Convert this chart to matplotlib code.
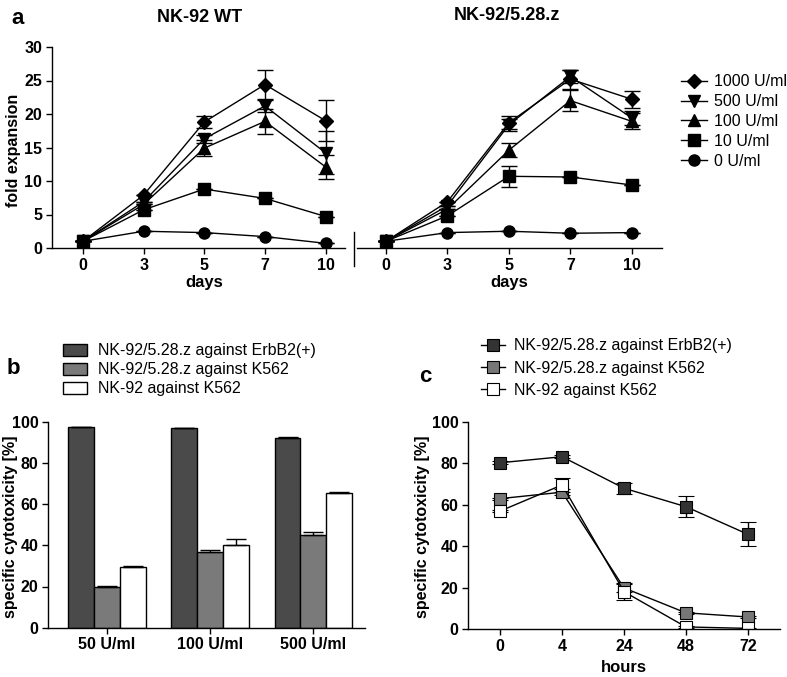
import matplotlib
matplotlib.use('Agg')
import matplotlib.pyplot as plt
from matplotlib.lines import Line2D
import numpy as np

plt.rcParams['font.family'] = ['Liberation Sans', 'DejaVu Sans']

# panel a: fold expansion over days
days = ['0', '3', '5', '7', '10']
doses = ['1000 U/ml', '500 U/ml', '100 U/ml', '10 U/ml', '0 U/ml']
dose_markers = ['D', 'v', '^', 's', 'o']

wt_mean = [
    [1.0, 7.9, 18.8, 24.4, 19.0],
    [1.0, 6.9, 16.3, 21.2, 14.2],
    [1.0, 6.5, 14.9, 18.9, 12.1],
    [1.0, 5.7, 8.8, 7.4, 4.7],
    [1.0, 2.5, 2.3, 1.7, 0.7],
]
wt_err = [
    [0, 0, 0.9, 2.2, 3.1],
    [0, 0, 0.6, 0.9, 3.2],
    [0, 0, 1.2, 1.9, 1.8],
    [0, 0, 0, 0, 0],
    [0, 0, 0, 0, 0],
]
car_mean = [
    [1.0, 6.9, 18.7, 25.2, 22.2],
    [1.0, 6.3, 18.4, 25.6, 19.4],
    [1.0, 5.8, 14.6, 22.0, 18.9],
    [1.0, 4.8, 10.7, 10.6, 9.4],
    [1.0, 2.3, 2.5, 2.2, 2.3],
]
car_err = [
    [0, 0, 1.0, 1.4, 1.3],
    [0, 0, 0.9, 1.0, 1.1],
    [0, 0, 1.0, 1.6, 1.2],
    [0, 0, 1.6, 0, 0],
    [0, 0, 0, 0, 0],
]

# panel b: cytotoxicity per IL-2 concentration
conc = ['50 U/ml', '100 U/ml', '500 U/ml']
groups = ['NK-92/5.28.z against ErbB2(+)', 'NK-92/5.28.z against K562', 'NK-92 against K562']
b_erbb2 = [97.4, 96.8, 92.1]
b_erbb2_err = [0.2, 0.2, 0.7]
b_car_k562 = [19.9, 36.6, 45.0]
b_car_k562_err = [0.4, 1.3, 1.6]
b_wt_k562 = [29.6, 40.1, 65.6]
b_wt_k562_err = [0.5, 3.0, 0.3]

# panel c: cytotoxicity over time
hours = ['0', '4', '24', '48', '72']
c_erbb2 = [80.2, 83.1, 67.9, 59.0, 45.7]
c_erbb2_err = [0.8, 0.8, 2.6, 5.2, 5.8]
c_car_k562 = [62.9, 66.0, 19.8, 7.8, 5.8]
c_car_k562_err = [0.5, 1.5, 2.0, 0.5, 0.5]
c_wt_k562 = [56.9, 69.5, 18.0, 1.0, 0.3]
c_wt_k562_err = [0.5, 3.5, 4.0, 0.3, 0.3]

W, H = 787, 677
fig = plt.figure(figsize=(W / 100, H / 100), dpi=100)


def px_axes(l, t, r, b):
    return fig.add_axes([l / W, 1 - b / H, (r - l) / W, (b - t) / H])


def style(ax):
    for s in ['top', 'right']:
        ax.spines[s].set_visible(False)
    for s in ['left', 'bottom']:
        ax.spines[s].set_linewidth(1.0)
    ax.tick_params(length=4, width=1, labelsize=11.5, pad=3)
    for lab in ax.get_xticklabels() + ax.get_yticklabels():
        lab.set_fontweight('bold')


def ftext(x, y, s, **kw):
    fig.text(x / W, 1 - y / H, s, ha='center', va='center', **kw)


# ---- panel a ----
axL = px_axes(52, 47, 345, 248)
axR = px_axes(357, 47, 662, 248)
xpos = np.arange(len(days))
for ax, means, errs in [(axL, wt_mean, wt_err), (axR, car_mean, car_err)]:
    for i in range(len(doses) - 1, -1, -1):
        ms = 7 if dose_markers[i] == 'D' else 8
        ax.errorbar(xpos, means[i], yerr=errs[i], color='black', marker=dose_markers[i],
                    ms=ms, lw=1, elinewidth=1, capsize=6, capthick=1)
    ax.set_ylim(0, 30)
    ax.set_xticks(xpos)
    ax.set_xticklabels(days)
    ax.set_yticks(range(0, 31, 5))
axL.set_xlim(-0.51, 4.32)
axR.set_xlim(-0.47, 4.49)
style(axL)
style(axR)
axR.spines['left'].set_visible(False)
axR.tick_params(axis='y', left=False, labelleft=False)
fig.add_artist(Line2D([354 / W, 354 / W], [1 - 232 / H, 1 - 266 / H], color='black', lw=1))

a_handles = [Line2D([], [], color='black', lw=1, marker=m, ms=(7 if m == 'D' else 8))
             for m in dose_markers]
axR.legend(a_handles, doses, loc='upper left', bbox_to_anchor=(675 / W, 1 - 68 / H),
           bbox_transform=fig.transFigure, frameon=False, fontsize=11.5,
           handlelength=1.6, handletextpad=0.45, labelspacing=0.3, borderaxespad=0)

ftext(200, 18, 'NK-92 WT', fontsize=13, fontweight='bold')
ftext(507, 15, 'NK-92/5.28.z', fontsize=13, fontweight='bold')
ftext(18, 18, 'a', fontsize=16, fontweight='bold')
ftext(14, 150, 'fold expansion', fontsize=11.5, fontweight='bold', rotation=90)
ftext(204, 283, 'days', fontsize=12, fontweight='bold')
ftext(509, 283, 'days', fontsize=12, fontweight='bold')

# ---- panel b ----
axb = px_axes(48, 421.7, 365, 627.7)
xb = np.arange(len(conc))
bw = 0.25
bar_colors = ['#4a4a4a', '#7a7a7a', 'white']
b_vals = [b_erbb2, b_car_k562, b_wt_k562]
b_errs = [b_erbb2_err, b_car_k562_err, b_wt_k562_err]
for k in range(3):
    errs = np.array(b_errs[k])
    axb.bar(xb + (k - 1) * bw, b_vals[k], width=bw, color=bar_colors[k], edgecolor='black',
            linewidth=1, label=groups[k],
            yerr=[np.zeros_like(errs), errs],
            error_kw=dict(ecolor='black', elinewidth=1, capsize=7, capthick=1))
axb.set_xlim(-0.57, 2.5)
axb.set_ylim(0, 100)
axb.set_yticks(range(0, 101, 20))
axb.set_xticks(xb)
axb.set_xticklabels(conc)
style(axb)
axb.legend(loc='upper left', bbox_to_anchor=(57 / W, 1 - 337 / H),
           bbox_transform=fig.transFigure, frameon=False, fontsize=11.5,
           handlelength=1.45, handleheight=0.75, handletextpad=0.7, labelspacing=0.25,
           borderaxespad=0)
ftext(13, 368, 'b', fontsize=16, fontweight='bold')
ftext(11, 527, 'specific cytotoxicity [%]', fontsize=11.5, fontweight='bold', rotation=90)

# ---- panel c ----
axc = px_axes(468, 421.7, 780, 629)
xc = np.arange(len(hours))
c_vals = [c_erbb2, c_car_k562, c_wt_k562]
c_errs = [c_erbb2_err, c_car_k562_err, c_wt_k562_err]
c_colors = ['#333333', '#777777', 'white']
for k in range(3):
    axc.errorbar(xc, c_vals[k], yerr=c_errs[k], color='black', marker='s', ms=8,
                 mfc=c_colors[k], mec='black', mew=0.8, lw=1, elinewidth=1,
                 capsize=6, capthick=1)
axc.set_xlim(-0.52, 4.52)
axc.set_ylim(0, 100)
axc.set_yticks(range(0, 101, 20))
axc.set_xticks(xc)
axc.set_xticklabels(hours)
style(axc)
c_handles = [Line2D([], [], color='black', lw=1, marker='s', ms=8, mfc=c, mec='black', mew=0.8)
             for c in c_colors]
axc.legend(c_handles, groups, loc='upper left', bbox_to_anchor=(475 / W, 1 - 332 / H),
           bbox_transform=fig.transFigure, frameon=False, fontsize=11.5,
           handlelength=1.5, handletextpad=0.55, labelspacing=0.45, borderaxespad=0)
ftext(425, 377, 'c', fontsize=16, fontweight='bold')
ftext(423, 527, 'specific cytotoxicity [%]', fontsize=11.5, fontweight='bold', rotation=90)
ftext(624, 668, 'hours', fontsize=12, fontweight='bold')

fig.savefig('out.png', dpi=100)
